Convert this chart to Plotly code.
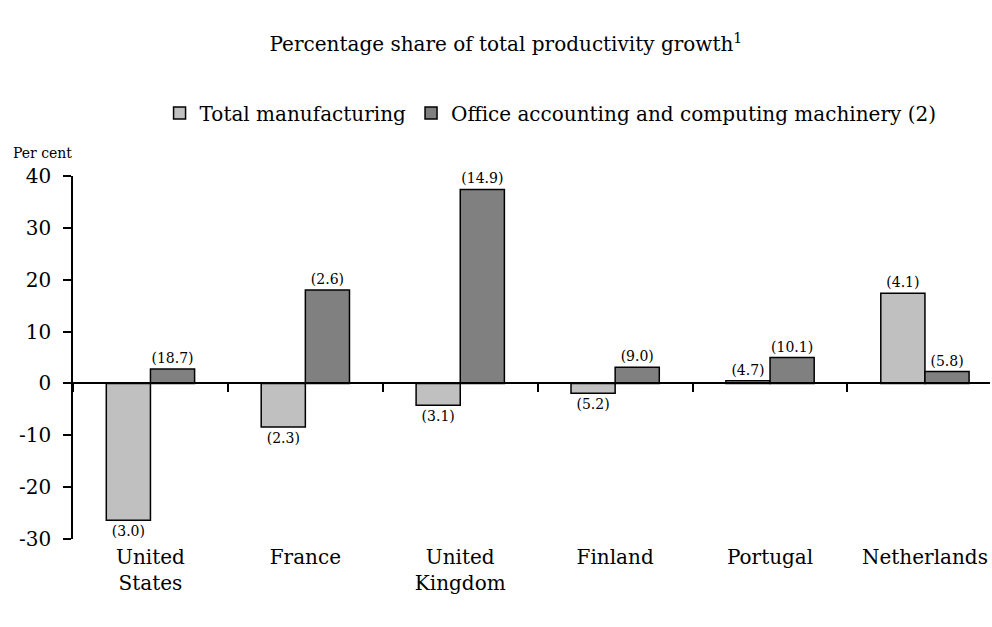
import plotly.graph_objects as go

countries = ["United<br>States", "France", "United<br>Kingdom", "Finland", "Portugal", "Netherlands"]
total_mfg = [-26.4, -8.4, -4.2, -1.9, 0.5, 17.4]
office_mach = [2.8, 18.0, 37.4, 3.1, 5.0, 2.3]
total_labels = ["(3.0)", "(2.3)", "(3.1)", "(5.2)", "(4.7)", "(4.1)"]
office_labels = ["(18.7)", "(2.6)", "(14.9)", "(9.0)", "(10.1)", "(5.8)"]
y_ticks = [-30, -20, -10, 0, 10, 20, 30, 40]
y_tick_text = ["-30", "-20", "-10", "0", "10", "20", "30", "40"]

FONT = "DejaVu Serif"

fig = go.Figure()
fig.add_trace(go.Bar(
    name="Total manufacturing", x=countries, y=total_mfg,
    marker=dict(color="#C0C0C0", line=dict(color="black", width=1.5)),
    text=total_labels, textposition="outside", constraintext="none",
    textfont=dict(family=FONT, size=14, color="black"), cliponaxis=False,
))
fig.add_trace(go.Bar(
    name="Office accounting and computing machinery (2)", x=countries, y=office_mach,
    marker=dict(color="#808080", line=dict(color="black", width=1.5)),
    text=office_labels, textposition="outside", constraintext="none",
    textfont=dict(family=FONT, size=14, color="black"), cliponaxis=False,
))
# invisible trace carrying the zero-line axis
fig.add_trace(go.Scatter(
    x=countries, y=[0] * len(countries), xaxis="x2", mode="markers",
    marker=dict(opacity=0), showlegend=False, hoverinfo="skip",
))

fig.update_layout(
    width=992, height=627,
    paper_bgcolor="white", plot_bgcolor="white",
    margin=dict(l=73, r=2, t=176, b=88, autoexpand=False),
    barmode="group", bargap=0.43, bargroupgap=0,
    font=dict(family=FONT, color="black"),
    title=dict(
        text="Percentage share of total productivity growth<sup>1</sup>",
        font=dict(family=FONT, size=20, color="black"),
        x=0.51, xref="container", xanchor="center",
        y=1 - 44 / 627, yref="container", yanchor="middle",
    ),
    legend=dict(
        orientation="h", xref="container", yref="container",
        x=0.555, xanchor="center", y=1 - 113 / 627, yanchor="middle",
        font=dict(family=FONT, size=20, color="black"),
        itemwidth=30, traceorder="normal",
    ),
    xaxis=dict(
        type="category", range=[-0.5, 5.42], showline=False, ticks="",
        showgrid=False, zeroline=False, ticklabelstandoff=4,
        tickfont=dict(family=FONT, size=20, color="black"),
    ),
    xaxis2=dict(
        type="category", overlaying="x", matches="x", anchor="free",
        position=30 / 70, side="bottom",
        showline=True, linecolor="black", linewidth=1.5,
        ticks="outside", tickson="boundaries", ticklen=8, tickwidth=1.5, tickcolor="black",
        showticklabels=False, showgrid=False, zeroline=False,
    ),
    yaxis=dict(
        range=[-30, 40], tickvals=y_ticks, ticktext=y_tick_text,
        ticks="outside", ticklen=8, tickwidth=1.5, tickcolor="black",
        showline=True, linecolor="black", linewidth=1.5,
        showgrid=False, zeroline=False, ticklabelstandoff=8,
        tickfont=dict(family=FONT, size=20, color="black"),
    ),
    annotations=[dict(
        text="Per cent", xref="paper", yref="paper",
        x=-0.068, xanchor="left", y=1.063, yanchor="middle",
        showarrow=False, font=dict(family=FONT, size=14, color="black"),
    )],
)

fig.write_html(
    "out.html",
    config={"displayModeBar": False},
    post_script="document.body.style.margin='0';",
)
